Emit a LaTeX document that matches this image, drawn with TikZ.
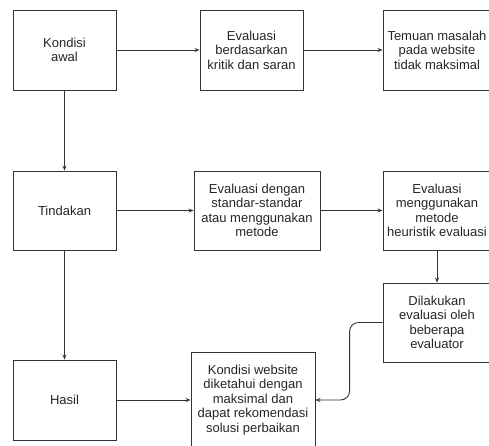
\documentclass[tikz,border=0pt]{standalone}
\usepackage{fontspec}
\setmainfont{Liberation Sans}
\usetikzlibrary{arrows.meta}
\begin{document}
\begin{tikzpicture}[x=1pt,y=-1pt]
        \useasboundingbox (0,0) rectangle (489,445);
        \fill[white] (0,0) rectangle (489,445);
        \clip (0,0) rectangle (489,445);
        \begin{scope}[every node/.style={rectangle,draw=black!80,line width=0.9pt,align=center,
            inner sep=1pt,text=black!85,font=\fontsize{13}{14.5}\selectfont}]
          \node[minimum width=103,minimum height=80] (awal) at (64.5,50) {Kondisi\\awal};
          \node[minimum width=103,minimum height=80] (kritik) at (251.5,50) {Evaluasi\\berdasarkan\\kritik dan saran};
          \node[minimum width=108,minimum height=80] (temuan) at (437,50) {Temuan masalah\\pada website\\tidak maksimal};
          \node[minimum width=103,minimum height=79] (tindakan) at (64.5,210.5) {Tindakan};
          \node[minimum width=126,minimum height=79] (standar) at (257,210.5) {Evaluasi dengan\\standar-standar\\atau menggunakan\\metode};
          \node[minimum width=108,minimum height=79] (heuristik) at (437,210.5) {Evaluasi\\menggunakan\\metode\\heuristik evaluasi};
          \node[minimum width=108,minimum height=79] (evaluator) at (437,322.5) {Dilakukan\\evaluasi oleh\\beberapa\\evaluator};
          \node[minimum width=103,minimum height=80] (hasil) at (64.5,400) {Hasil};
          \node[minimum width=124,minimum height=96] (website) at (253,400) {Kondisi website\\diketahui dengan\\maksimal dan\\dapat rekomendasi\\solusi perbaikan};
        \end{scope}
        \begin{scope}[every edge/.style={draw=black!80,line width=0.9pt,-{Stealth[length=5pt,width=4pt]}}]
          \path (awal) edge (kritik);
          \path (kritik) edge (temuan);
          \path (awal) edge (tindakan);
          \path (tindakan) edge (standar);
          \path (standar) edge (heuristik);
          \path (heuristik) edge (evaluator);
          \path (tindakan) edge (hasil);
          \path (hasil) edge (website);
          \path (evaluator.west) edge[rounded corners=9pt,to path={-- ++(-33,0) |- (\tikztotarget)}] (website.east);
        \end{scope}
\end{tikzpicture}
\end{document}
